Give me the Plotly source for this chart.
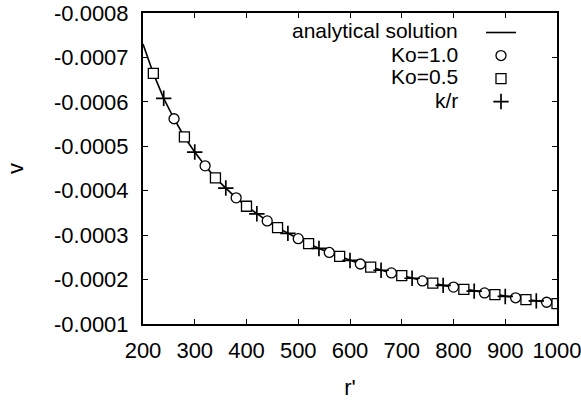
import plotly.graph_objects as go

# analytical solution
r_line = [200, 220, 240, 260, 280, 300, 320, 340, 360, 380, 400, 420, 440, 460, 480,
          500, 520, 540, 560, 580, 600, 620, 640, 660, 680, 700, 720, 740, 760, 780,
          800, 820, 840, 860, 880, 900, 920, 940, 960, 980, 1000]
v_line = [-0.000730, -0.000664, -0.000608, -0.000562, -0.000521, -0.000487, -0.000456,
          -0.000429, -0.000406, -0.000384, -0.000365, -0.000348, -0.000332, -0.000317,
          -0.000304, -0.000292, -0.000281, -0.000270, -0.000261, -0.000252, -0.000243,
          -0.000235, -0.000228, -0.000221, -0.000215, -0.000209, -0.000203, -0.000197,
          -0.000192, -0.000187, -0.000183, -0.000178, -0.000174, -0.000170, -0.000166,
          -0.000162, -0.000159, -0.000155, -0.000152, -0.000149, -0.000146]

# Ko=1.0 (circles)
r_ko1 = [260, 320, 380, 440, 500, 560, 620, 680, 740, 800, 860, 920, 980]
v_ko1 = [-0.000562, -0.000456, -0.000384, -0.000332, -0.000292, -0.000261, -0.000235,
         -0.000215, -0.000197, -0.000183, -0.000170, -0.000159, -0.000149]

# Ko=0.5 (squares)
r_ko05 = [220, 280, 340, 400, 460, 520, 580, 640, 700, 760, 820, 880, 940, 1000]
v_ko05 = [-0.000664, -0.000521, -0.000429, -0.000365, -0.000317, -0.000281, -0.000252,
          -0.000228, -0.000209, -0.000192, -0.000178, -0.000166, -0.000155, -0.000146]

# k/r (plus)
r_kr = [240, 300, 360, 420, 480, 540, 600, 660, 720, 780, 840, 900, 960]
v_kr = [-0.000608, -0.000487, -0.000406, -0.000348, -0.000304, -0.000270, -0.000243,
        -0.000221, -0.000203, -0.000187, -0.000174, -0.000162, -0.000152]

y_tickvals = [-0.0008, -0.0007, -0.0006, -0.0005, -0.0004, -0.0003, -0.0002, -0.0001]
y_ticktext = ["-0.0008", "-0.0007", "-0.0006", "-0.0005", "-0.0004", "-0.0003", "-0.0002", "-0.0001"]
legend_labels = ["analytical solution", "Ko=1.0", "Ko=0.5", "k/r"]

FONT = "Liberation Sans, Arial, Helvetica, sans-serif"
FS = 22

fig = go.Figure()
fig.add_trace(go.Scatter(x=r_line, y=v_line, mode="lines", name=" ",
                         line=dict(color="black", width=1.6)))
fig.add_trace(go.Scatter(x=r_ko1, y=v_ko1, mode="markers", name=" ",
                         marker=dict(symbol="circle", size=10, color="white",
                                     line=dict(color="black", width=1.3))))
fig.add_trace(go.Scatter(x=r_ko05, y=v_ko05, mode="markers", name=" ",
                         marker=dict(symbol="square", size=10, color="white",
                                     line=dict(color="black", width=1.3))))
fig.add_trace(go.Scatter(x=r_kr, y=v_kr, mode="markers", name=" ",
                         marker=dict(symbol="cross-thin", size=11,
                                     line=dict(color="black", width=1.7))))

axis_common = dict(showline=True, linecolor="black", linewidth=2, mirror="ticks",
                   ticks="inside", ticklen=5, tickwidth=1.2, tickcolor="black",
                   showgrid=False, zeroline=False, automargin=False,
                   tickfont=dict(family=FONT, size=FS, color="black"))

fig.update_xaxes(range=[200, 1000], dtick=100, tick0=0, ticklabelstandoff=6,
                 ticklabeloverflow="allow",
                 title=dict(text="r'", font=dict(family=FONT, size=FS, color="black"), standoff=22),
                 **axis_common)
fig.update_yaxes(range=[-0.0001, -0.0008], tickvals=y_tickvals, ticktext=y_ticktext,
                 ticklabelstandoff=8,
                 title=dict(text="v", font=dict(family=FONT, size=FS, color="black"), standoff=24),
                 **axis_common)

legend_y = [31, 54, 77, 100]
annotations = []
for lab, yy in zip(legend_labels, legend_y):
    annotations.append(dict(text=lab, xref="paper", yref="paper",
                            x=(460 - 143) / 414, xanchor="right",
                            y=1 - (yy - 13) / 311, yanchor="middle",
                            showarrow=False, font=dict(family=FONT, size=21, color="black")))

fig.update_layout(
    width=581, height=400,
    margin=dict(l=143, r=24, t=13, b=76),
    paper_bgcolor="white", plot_bgcolor="white",
    showlegend=True,
    legend=dict(x=(481 - 143) / 414, y=1 - (16 - 13) / 311, xanchor="left", yanchor="top",
                bgcolor="rgba(0,0,0,0)", font=dict(family=FONT, size=15.4),
                tracegroupgap=0, itemwidth=30),
    annotations=annotations,
    font=dict(family=FONT, color="black"),
)

fig.write_html("out.html", config={"displayModeBar": False},
               post_script="document.body.style.margin='0';")
